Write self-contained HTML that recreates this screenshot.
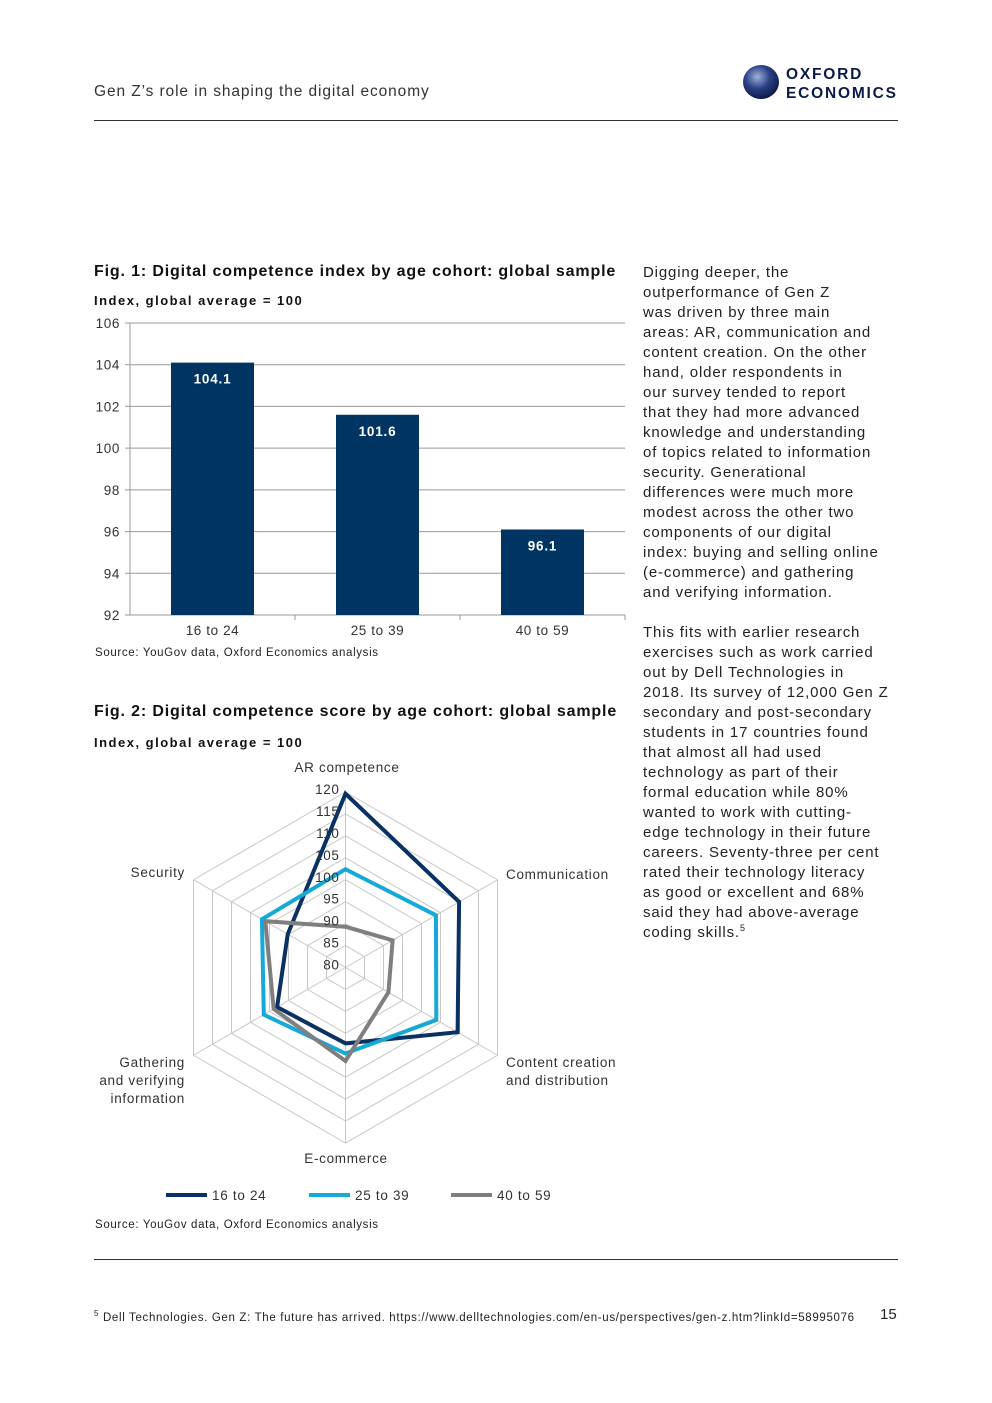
<!DOCTYPE html>
<html><head><meta charset="utf-8"><style>
body{margin:0;background:#fff;}
#page{position:relative;width:992px;height:1403px;background:#fff;font-family:"Liberation Sans",sans-serif;color:#222;overflow:hidden}
.abs{position:absolute;white-space:nowrap}
.body{white-space:nowrap}
.body p{margin:0 0 20px 0;}
</style></head><body>
<div id="page">
<div class="abs" style="left:94px;top:83px;font-size:15.5px;color:#333;letter-spacing:0.9px">Gen Z’s role in shaping the digital economy</div>
<div class="abs" style="left:742px;top:63px">
<svg width="160" height="40"><defs><radialGradient id="g" cx="0.4" cy="0.35" r="0.7"><stop offset="0" stop-color="#9fb0d8"/><stop offset="0.5" stop-color="#2a3f86"/><stop offset="1" stop-color="#0b1740"/></radialGradient></defs><ellipse cx="19" cy="19" rx="18" ry="17" fill="url(#g)"/>
<text x="44" y="16" font-family="Liberation Sans" font-weight="bold" font-size="15.5" fill="#0b1a4a" letter-spacing="1.8">OXFORD</text>
<text x="44" y="35" font-family="Liberation Sans" font-weight="bold" font-size="15.5" fill="#0b1a4a" letter-spacing="1.8">ECONOMICS</text></svg></div>
<div class="abs" style="left:94px;top:120px;width:804px;height:1px;background:#333"></div>

<div class="abs" style="left:94px;top:263px;font-size:16px;font-weight:bold;color:#111;letter-spacing:0.85px">Fig. 1: Digital competence index by age cohort: global sample</div>
<div class="abs" style="left:94px;top:293px;font-size:13px;font-weight:bold;color:#111;letter-spacing:1.5px">Index, global average = 100</div>
<svg id="bar" class="abs" style="left:0;top:0" width="640" height="650"></svg>
<div class="abs" style="left:95px;top:647px;font-size:11.5px;color:#222;letter-spacing:0.65px">Source: YouGov data, Oxford Economics analysis</div>

<div class="abs" style="left:94px;top:703px;font-size:16px;font-weight:bold;color:#111;letter-spacing:0.85px">Fig. 2: Digital competence score by age cohort: global sample</div>
<div class="abs" style="left:94px;top:735px;font-size:13px;font-weight:bold;color:#111;letter-spacing:1.5px">Index, global average = 100</div>
<svg id="radar" class="abs" style="left:0;top:0" width="640" height="1210"></svg>
<div class="abs" style="left:95px;top:1219px;font-size:11.5px;color:#222;letter-spacing:0.65px">Source: YouGov data, Oxford Economics analysis</div>

<div class="abs body" style="left:643px;top:263px;font-size:15px;line-height:20px;color:#222;letter-spacing:0.85px">
<p>Digging deeper, the<br>outperformance of Gen Z<br>was driven by three main<br>areas: AR, communication and<br>content creation. On the other<br>hand, older respondents in<br>our survey tended to report<br>that they had more advanced<br>knowledge and understanding<br>of topics related to information<br>security. Generational<br>differences were much more<br>modest across the other two<br>components of our digital<br>index: buying and selling online<br>(e-commerce) and gathering<br>and verifying information.</p>
<p>This fits with earlier research<br>exercises such as work carried<br>out by Dell Technologies in<br>2018. Its survey of 12,000 Gen Z<br>secondary and post-secondary<br>students in 17 countries found<br>that almost all had used<br>technology as part of their<br>formal education while 80%<br>wanted to work with cutting-<br>edge technology in their future<br>careers. Seventy-three per cent<br>rated their technology literacy<br>as good or excellent and 68%<br>said they had above-average<br>coding skills.<sup style="font-size:9px;line-height:0">5</sup></p>
</div>

<div class="abs" style="left:94px;top:1259px;width:804px;height:1px;background:#333"></div>
<div class="abs" style="left:94px;top:1309px;font-size:11.5px;color:#222;letter-spacing:0.66px"><sup style="font-size:8px">5</sup> Dell Technologies. Gen Z: The future has arrived. https://www.delltechnologies.com/en-us/perspectives/gen-z.htm?linkId=58995076</div>
<div class="abs" style="left:880px;top:1306px;font-size:15px;color:#222">15</div>
</div>
<script>
const NS='http://www.w3.org/2000/svg';
function mk(p,t,a){const e=document.createElementNS(NS,t);for(const k in a)e.setAttribute(k,a[k]);p.appendChild(e);return e;}
// Bar chart data
const barCats=['16 to 24','25 to 39','40 to 59'];
const barVals=[104.1,101.6,96.1];
const barTicks=[92,94,96,98,100,102,104,106];
(function(){
const s=document.getElementById('bar');
const x0=130,x1=625,yT=323,yB=615,mn=92,mx=106;
const y=v=>yB-(v-mn)/(mx-mn)*(yB-yT);
const bw=(x1-x0)/barCats.length;
barTicks.forEach(t=>{
const l=mk(s,'line',{x1:x0-5,x2:x1,y1:y(t),y2:y(t),stroke:'#999','stroke-width':1});


const tx=mk(s,'text',{x:x0-10,y:y(t)+5,'text-anchor':'end','font-size':13.5,fill:'#333','font-family':'Liberation Sans','letter-spacing':0.6});
tx.textContent=t;


});
mk(s,'line',{x1:x0,x2:x0,y1:yT,y2:yB,stroke:'#999'});
barCats.forEach((c,i)=>{
const cx=x0+bw*(i+0.5),v=barVals[i];
const r=mk(s,'rect',{x:cx-41.5,y:y(v),width:83,height:yB-y(v),fill:'#003462'});


const vl=mk(s,'text',{x:cx,y:y(v)+21,'text-anchor':'middle','font-size':13.5,'font-weight':'bold',fill:'#fff','font-family':'Liberation Sans','letter-spacing':0.8});
vl.textContent=v.toFixed(1);


const cl=mk(s,'text',{x:cx,y:yB+20,'text-anchor':'middle','font-size':13.5,fill:'#333','font-family':'Liberation Sans','letter-spacing':0.6});
cl.textContent=c;


if(i>0)mk(s,'line',{x1:x0+bw*i,x2:x0+bw*i,y1:yB,y2:yB+5,stroke:'#999'});
});
mk(s,'line',{x1:x1,x2:x1,y1:yB,y2:yB+5,stroke:'#999'});
})();
// Radar data
const axes=['AR competence','Communication','Content creation and distribution','E-commerce','Gathering and verifying information','Security'];
const s1624=[119.6,109.9,109.5,97.3,98,95.2];
const s2539=[102.4,103.8,103.9,99.6,101.5,102];
const s4059=[89.3,92.4,91.3,101.3,98.9,101.1];
const rTicks=[80,85,90,95,100,105,110,115,120];
(function(){
const s=document.getElementById('radar');
const cx=345.5,cy=967.5,R=175.5,mn=80,mx=120;
const pt=(i,v)=>{const a=-Math.PI/2+i*Math.PI/3,r=(v-mn)/(mx-mn)*R;return [cx+r*Math.cos(a),cy+r*Math.sin(a)];};
rTicks.forEach(t=>{
if(t>mn){const p=axes.map((_,i)=>pt(i,t).join(',')).join(' ');
const g=mk(s,'polygon',{points:p,fill:'none',stroke:'#c8c8c8','stroke-width':1});

}
});
axes.forEach((a,i)=>{const p=pt(i,mx);mk(s,'line',{x1:cx,y1:cy,x2:p[0],y2:p[1],stroke:'#c8c8c8'});});
const series=[[s1624,'#0a3163','16-to-24'],[s2539,'#16a8d6','25-to-39'],[s4059,'#7f7f7f','40-to-59']];
series.forEach(([d,c,n])=>{
const p=d.map((v,i)=>pt(i,v).join(',')).join(' ');
const g=mk(s,'polygon',{points:p,fill:'none',stroke:c,'stroke-width':4,'stroke-linejoin':'miter'});


});
rTicks.forEach(t=>{
const p=pt(0,t);
const tx=mk(s,'text',{x:cx-6,y:p[1]+2,'text-anchor':'end','font-size':13.5,fill:'#333','font-family':'Liberation Sans','letter-spacing':0.6});
tx.textContent=t;


});
const lab=[[347,772,'middle',['AR competence']],[506,879,'start',['Communication']],[506,1067,'start',['Content creation','and distribution']],[346,1163,'middle',['E-commerce']],[185,1067,'end',['Gathering','and verifying','information']],[185,877,'end',['Security']]];
lab.forEach(([x,y,an,ls])=>{
const t=mk(s,'text',{x:x,y:y,'text-anchor':an,'font-size':13.5,fill:'#333','font-family':'Liberation Sans','letter-spacing':0.7});


ls.forEach((l,k)=>{const ts=mk(t,'tspan',{x:x,dy:k?18:0});ts.textContent=l;});
});
const leg=[[166,'16 to 24','#0a3163'],[309,'25 to 39','#16a8d6'],[451,'40 to 59','#7f7f7f']];
leg.forEach(([x,l,c])=>{
const ln=mk(s,'line',{x1:x,x2:x+41,y1:1195,y2:1195,stroke:c,'stroke-width':4});


const t=mk(s,'text',{x:x+46,y:1200,'font-size':13.5,fill:'#333','font-family':'Liberation Sans','letter-spacing':0.7});
t.textContent=l;


});
})();
</script>
</body></html>
